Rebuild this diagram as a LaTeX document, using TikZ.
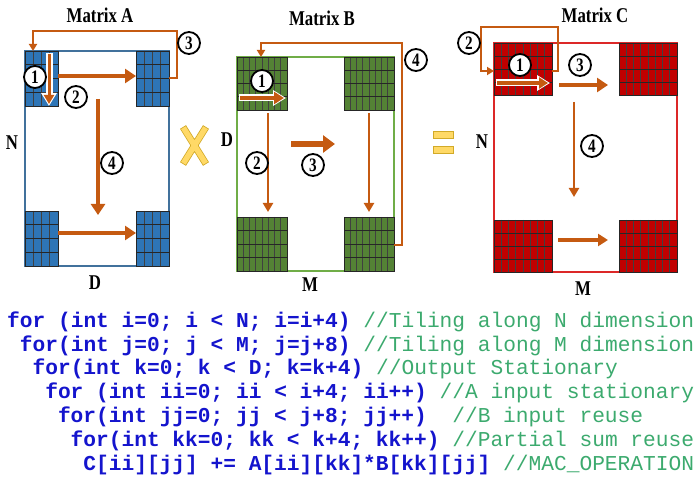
\documentclass[tikz,border=0pt]{standalone}
\usepackage{fontspec}
\setmainfont{Liberation Serif}
\newfontfamily\codefont{Liberation Mono}
\newfontfamily\titlefont{Liberation Serif}[FakeStretch=0.8]
\usetikzlibrary{arrows.meta}
\definecolor{orng}{RGB}{197,90,17}
\definecolor{tblue}{RGB}{46,117,182}
\definecolor{bblue}{RGB}{65,113,156}
\definecolor{tgreen}{RGB}{84,130,53}
\definecolor{bgreen}{RGB}{112,173,71}
\definecolor{tred}{RGB}{192,0,0}
\definecolor{bred}{RGB}{220,40,40}
\definecolor{codeblue}{RGB}{20,20,205}
\definecolor{codegreen}{RGB}{60,170,110}
\definecolor{ylw}{RGB}{255,217,102}
\definecolor{ylwdark}{RGB}{210,170,40}
\tikzset{
  gridh/.style={line width=0.9pt, draw=black!85},
  gridv/.style={line width=0.7pt, draw=black!75},
  title/.style={font=\titlefont\bfseries\fontsize{21}{21}\selectfont, inner sep=0pt},
  dimlabel/.style={font=\titlefont\bfseries\fontsize{21}{21}\selectfont, inner sep=0pt},
  numc/.style={circle, draw=black, line width=1.8pt, fill=white, minimum size=22pt, inner sep=0pt, font=\titlefont\bfseries\fontsize{19}{19}\selectfont},
  thickarr/.style={orng, line width=4.5pt, -{Triangle[length=11pt,width=14pt]}},
  thinarr/.style={orng, line width=2.5pt, -{Triangle[length=9pt,width=10pt]}},
  looparr/.style={orng, line width=2pt, -{Triangle[length=7pt,width=8pt]}},
  outwhite/.style={white, line width=7pt, -{Triangle[length=13pt,width=15pt]}},
  code/.style={anchor=mid west, inner sep=0pt, font=\codefont\fontsize{21.2}{21.2}\selectfont},
}
\newcommand\tilegrid[7]{%
  \fill[#7] (#1,#2) rectangle (#3,#4);
  \foreach \k in {1,...,#5}{\draw[gridv] ({#1+(#3-#1)*\k/#5},#2) -- ({#1+(#3-#1)*\k/#5},#4);}
  \foreach \k in {1,...,#6}{\draw[gridh] (#1,{#2+(#4-#2)*\k/#6}) -- (#3,{#2+(#4-#2)*\k/#6});}
  \draw[gridh] (#1,#2) rectangle (#3,#4);
}
\begin{document}
\begin{tikzpicture}[x=1pt,y=-1pt]
\useasboundingbox (0,0) rectangle (694,478);
% ---------------- Matrix A
\draw[bblue, line width=1.5pt] (25,51) rectangle (169,266);
\tilegrid{25}{51}{58}{106}{4}{4}{tblue}
\tilegrid{136}{51}{169}{106}{4}{4}{tblue}
\tilegrid{25}{211}{58}{266}{4}{4}{tblue}
\tilegrid{136}{211}{169}{266}{4}{4}{tblue}
\node[title] (tA) at (100,15) {Matrix A};
\node[dimlabel] (nA) at (12,143) {N};
\node[dimlabel] (dA) at (95,283) {D};
\draw[outwhite] (49,53) -- (49,106);
\draw[orng, line width=3pt, -{Triangle[length=9pt,width=10pt]}] (49,54) -- (49,104);
\draw[thickarr] (58,76) -- (136,76);
\draw[thickarr] (58,233) -- (136,233);
\draw[thickarr] (98,99) -- (98,215);
\draw[looparr] (169,78) -- (177,78) -- (177,31) -- (33,31) -- (33,51);
\node[numc] (a1) at (35,77) {1};
\node[numc] (a2) at (76,97) {2};
\node[numc] (a3) at (189,43) {3};
\node[numc] (a4) at (112,163) {4};
% X sign
\draw[ylwdark, line width=7pt, line cap=butt] (183,127) -- (206,164) (206,127) -- (183,164);
\draw[ylw, line width=5.4pt, line cap=butt] (183.4,127.7) -- (205.6,163.3) (205.6,127.7) -- (183.4,163.3);
% ---------------- Matrix B
\draw[bgreen, line width=1.5pt] (237,57) rectangle (394,271);
\tilegrid{237}{57}{287}{110}{8}{4}{tgreen}
\tilegrid{344}{57}{394}{110}{8}{4}{tgreen}
\tilegrid{237}{217}{287}{271}{8}{4}{tgreen}
\tilegrid{344}{217}{394}{271}{8}{4}{tgreen}
\node[title] (tB) at (322,18) {Matrix B};
\node[dimlabel] (dB) at (227,140) {D};
\node[dimlabel] (mB) at (310,285) {M};
\draw[outwhite] (239,98) -- (286,98);
\draw[orng, line width=4.5pt, -{Triangle[length=10pt,width=12pt]}] (240,98) -- (284,98);
\draw[thinarr] (268,113) -- (268,212);
\draw[thinarr] (369,113) -- (369,212);
\draw[orng, line width=6pt, -{Triangle[length=12pt,width=17pt]}] (291,144) -- (335,144);
\draw[looparr] (394,245) -- (402,245) -- (402,43) -- (261,43) -- (261,57);
\node[numc] (b1) at (262,81) {1};
\node[numc] (b2) at (257,163) {2};
\node[numc] (b3) at (313,165) {3};
\node[numc] (b4) at (416,60) {4};
% = sign
\draw[ylwdark, fill=ylw, line width=1pt] (433,132) rectangle (453,139);
\draw[ylwdark, fill=ylw, line width=1pt] (433,147) rectangle (453,154);
% ---------------- Matrix C
\draw[bred, line width=1.5pt] (494,43) rectangle (677,272);
\tilegrid{494}{43}{552}{95}{8}{4}{tred}
\tilegrid{619}{43}{677}{95}{8}{4}{tred}
\tilegrid{494}{220}{552}{272}{8}{4}{tred}
\tilegrid{619}{220}{677}{272}{8}{4}{tred}
\node[title] (tC) at (595,15) {Matrix C};
\node[dimlabel] (nC) at (482,142) {N};
\node[dimlabel] (mC) at (583,289) {M};
\draw[outwhite] (496,83) -- (550,83);
\draw[orng, line width=3.5pt, -{Triangle[length=9pt,width=11pt]}] (497,83) -- (548,83);
\draw[thickarr] (559,85) -- (608,85);
\draw[orng, line width=3.5pt, -{Triangle[length=10pt,width=12pt]}] (558,240) -- (608,240);
\draw[thinarr] (574,102) -- (574,197);
\draw[looparr] (552,71) -- (558,71) -- (558,27) -- (481,27) -- (481,71) -- (494,71);
\node[numc] (c1) at (520,65) {1};
\node[numc] (c2) at (469,43) {2};
\node[numc] (c3) at (580,65) {3};
\node[numc] (c4) at (592,146) {4};
% ---------------- code
\node[code] (l1) at (7,325) {\textcolor{codeblue}{\bfseries for (int i=0; i < N; i=i+4)} \textcolor{codegreen}{//Tiling along N dimension}};
\node[code] (l2) at (19.7,349) {\textcolor{codeblue}{\bfseries for(int j=0; j < M; j=j+8)} \textcolor{codegreen}{//Tiling along M dimension}};
\node[code] (l3) at (32.4,372) {\textcolor{codeblue}{\bfseries for(int k=0; k < D; k=k+4)} \textcolor{codegreen}{//Output Stationary}};
\node[code] (l4) at (45.1,396) {\textcolor{codeblue}{\bfseries for (int ii=0; ii < i+4; ii++)} \textcolor{codegreen}{//A input stationary}};
\node[code] (l5) at (57.8,420) {\textcolor{codeblue}{\bfseries for(int jj=0; jj < j+8; jj++)}\hspace*{25.4pt}\textcolor{codegreen}{//B input reuse}};
\node[code] (l6) at (70.5,444) {\textcolor{codeblue}{\bfseries for(int kk=0; kk < k+4; kk++)} \textcolor{codegreen}{//Partial sum reuse}};
\node[code] (l7) at (83.2,468) {\textcolor{codeblue}{\bfseries C[ii][jj] += A[ii][kk]*B[kk][jj]} \textcolor{codegreen}{//MAC\_OPERATION}};
\end{tikzpicture}
\end{document}
